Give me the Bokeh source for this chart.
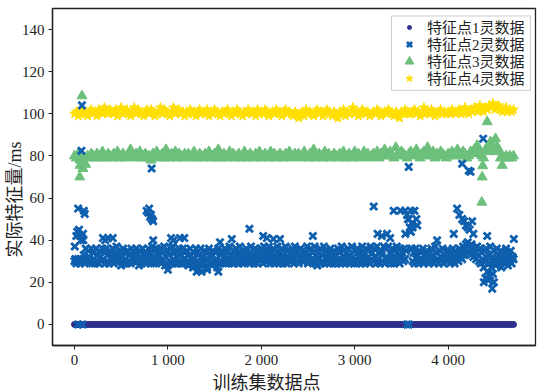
from bokeh.plotting import figure
from bokeh.models import Legend, LegendItem, Title, FixedTicker, BoxAnnotation
from bokeh.embed import file_html
from bokeh.resources import INLINE

# ---------------- data ----------------
series_names = ["特征点1灵数据", "特征点2灵数据", "特征点3灵数据", "特征点4灵数据"]

# sample indices of the training set
idx_fine = list(range(0, 4701, 10))     # series 2
idx_coarse = list(range(0, 4701, 20))   # series 1, 3, 4

# series 1: every value reads as 0
s1_vals = [0] * len(idx_coarse)

# series 2 (main band)
s2_vals = [
    30, 31, 29, 30, 31, 30, 29, 31, 30, 30, 33, 29, 36, 31, 30, 35, 32, 30, 36, 29,
    34, 31, 29, 36, 30, 33, 29, 35, 32, 30, 36, 31, 34, 29, 36, 30, 33, 29, 35, 31,
    32, 36, 29, 34, 30, 37, 31, 33, 30, 35, 28, 32, 36, 29, 34, 31, 29, 35, 30, 33,
    29, 36, 32, 30, 34, 31, 36, 30, 33, 28, 35, 32, 29, 36, 30, 34, 29, 33, 31, 36,
    30, 34, 29, 37, 32, 29, 35, 31, 36, 30, 33, 30, 36, 29, 34, 31, 37, 28, 32, 35,
    28, 33, 30, 36, 29, 37, 31, 34, 29, 35, 32, 29, 36, 30, 33, 29, 36, 31, 34, 29,
    35, 30, 28, 33, 36, 29, 31, 27, 34, 29, 36, 30, 27, 33, 29, 36, 28, 32, 30, 35,
    29, 34, 27, 31, 36, 29, 33, 28, 35, 30, 29, 34, 31, 27, 36, 29, 33, 30, 35, 29,
    32, 36, 29, 34, 30, 31, 37, 30, 33, 29, 35, 29, 32, 36, 30, 34, 29, 37, 31, 33,
    29, 35, 31, 30, 36, 32, 30, 34, 29, 37, 31, 33, 29, 36, 30, 35, 29, 32, 34, 30,
    36, 31, 29, 37, 33, 30, 35, 30, 37, 32, 29, 34, 31, 36, 29, 33, 30, 37, 32, 29,
    34, 30, 36, 29, 33, 31, 37, 29, 35, 32, 30, 34, 30, 36, 31, 29, 37, 33, 30, 35,
    29, 33, 36, 31, 30, 35, 30, 34, 32, 37, 29, 33, 30, 36, 31, 34, 30, 37, 29, 33,
    28, 34, 31, 36, 29, 33, 30, 37, 29, 35, 32, 30, 34, 29, 36, 31, 33, 29, 35, 30,
    33, 29, 36, 31, 34, 29, 37, 30, 35, 32, 29, 34, 31, 36, 29, 33, 30, 37, 32, 29,
    35, 31, 29, 36, 30, 34, 32, 29, 37, 31, 33, 29, 36, 30, 35, 32, 29, 37, 31, 34,
    30, 36, 32, 29, 37, 31, 34, 29, 35, 33, 30, 37, 29, 36, 32, 31, 37, 30, 34, 29,
    36, 32, 29, 35, 31, 37, 30, 33, 29, 36, 32, 34, 30, 36, 31, 35, 0, 50, 0, 46,
    44, 36, 30, 34, 29, 36, 31, 33, 29, 35, 31, 34, 30, 36, 29, 33, 30, 35, 32, 29,
    34, 30, 36, 31, 33, 29, 37, 30, 34, 31, 29, 35, 32, 30, 36, 29, 33, 31, 35, 30,
    31, 35, 29, 34, 30, 36, 32, 29, 35, 31, 33, 30, 36, 32, 34, 31, 37, 33, 35, 38,
    36, 39, 34, 37, 33, 38, 35, 32, 36, 34, 31, 37, 33, 30, 36, 29, 34, 31, 27, 35,
    30, 36, 25, 33, 29, 37, 27, 32, 24, 35, 30, 28, 36, 31, 33, 29, 35, 27, 32, 30,
    34, 29, 36, 31, 28, 33, 30, 35, 29, 32, 31,
]
# series 2 (isolated points away from the band)
s2_out_x = [3, 20, 30, 39, 49, 60, 70, 92, 95, 110, 100, 75, 80, 39, 86,
            305, 330, 360, 410, 772, 790, 800, 810, 820, 830, 843, 826, 843,
            1000, 1034, 1060, 1130, 1176, 1308, 1330, 1360, 1420, 1540, 1558, 1684, 1873,
            2020, 2060, 2130, 2200, 2552, 3203, 3245, 3290, 3346, 3380,
            3417, 3490, 3540, 3560, 3580, 3600, 3610, 3620, 3640, 3660, 3670, 3542, 3600, 3578,
            3882, 4060, 4096, 4120, 4150, 4170, 4190, 4210, 4230, 4257, 4270, 4150, 4221, 4240, 4375,
            4418, 4382, 4400, 4430, 4450, 4472, 4490, 4703]
s2_out_y = [37, 42, 44, 55, 45, 42, 40, 43, 40, 52.5, 54, 82.5, 104, 0, 0,
            41, 40, 41, 41, 54, 53, 55, 51, 52, 50, 49, 74, 40,
            26, 41, 40, 41, 41, 25, 26, 25, 26, 25, 39, 40.6, 45.4,
            42, 41, 40.6, 40.6, 42, 56, 43, 42, 43, 41,
            54, 54, 54, 52, 50, 54, 48, 46, 54, 50, 47, 43, 44, 74.8,
            40, 43, 55, 52, 50, 49, 47, 46, 45, 49, 43, 76.3, 73, 72.5, 88.2,
            42, 20, 22, 21, 23, 17, 20, 40.6]

# series 3 (band)
s3_vals = [
    80, 79, 81, 78, 80, 77, 76, 80, 79, 81, 80, 79, 81, 80, 79, 82, 80, 79, 81, 80,
    79, 81, 80, 82, 79, 80, 81, 79, 80, 81, 83, 80, 79, 81, 80, 82, 79, 80, 81, 79,
    80, 78, 81, 80, 82, 79, 80, 81, 79, 83, 80, 79, 81, 80, 82, 79, 81, 80, 79, 81,
    80, 81, 79, 80, 82, 80, 79, 81, 80, 79, 81, 80, 82, 79, 80, 81, 79, 83, 80, 79,
    81, 80, 79, 82, 80, 81, 79, 80, 81, 79, 80, 82, 79, 80, 81, 80, 79, 81, 80, 82,
    79, 80, 81, 80, 79, 82, 80, 81, 79, 80, 81, 80, 79, 81, 80, 82, 79, 80, 81, 80,
    81, 79, 80, 82, 80, 79, 81, 80, 83, 79, 80, 81, 80, 79, 82, 80, 81, 79, 80, 81,
    80, 79, 81, 80, 82, 79, 80, 81, 80, 79, 82, 80, 81, 79, 80, 82, 80, 81, 79, 80,
    81, 80, 82, 79, 81, 80, 83, 80, 81, 82, 80, 79, 84, 81, 80, 82, 81, 80, 79, 81,
    82, 80, 81, 83, 80, 79, 81, 82, 80, 84, 81, 80, 82, 79, 81, 80, 82, 81, 80, 79,
    81, 80, 82, 81, 80, 83, 81, 80, 82, 81, 79, 80, 82, 81, 83, 82, 84, 81, 80, 79,
    83, 82, 84, 83, 85, 82, 84, 83, 79, 80, 79, 80, 79, 80, 79, 80,
]
s3_out_x = [57, 60, 81, 90, 4310, 4330, 4360, 4364, 4370, 4418, 4453, 4480, 4507, 4530, 4579]
s3_out_y = [70, 75.5, 108.5, 74, 85, 83, 58, 70, 75.3, 96.2, 86.7, 85, 88.2, 84, 75.5]

# series 4 (band)
s4_vals = [
    100, 101, 99, 100, 102, 101, 100, 99, 101, 102, 100, 101, 99, 102, 101, 100, 103, 101, 100, 102,
    101, 100, 102, 99, 101, 103, 100, 101, 102, 100, 99, 101, 103, 100, 102, 101, 100, 99, 101, 102,
    100, 102, 101, 99, 100, 101, 103, 100, 102, 101, 100, 99, 101, 103, 100, 101, 102, 100, 101, 99,
    101, 100, 102, 100, 101, 99, 101, 102, 100, 101, 100, 102, 99, 101, 100, 102, 101, 100, 99, 101,
    100, 101, 102, 100, 99, 101, 100, 102, 101, 100, 99, 101, 100, 102, 101, 100, 101, 99, 102, 100,
    101, 100, 102, 101, 99, 100, 101, 100, 102, 101, 100, 99, 101, 102, 100, 101, 100, 99, 101, 100,
    98, 100, 101, 99, 102, 100, 101, 100, 99, 101, 102, 100, 101, 99, 100, 102, 101, 100, 99, 101,
    100, 98, 101, 100, 102, 99, 101, 100, 101, 103, 100, 101, 99, 100, 102, 101, 100, 101, 99, 100,
    101, 100, 102, 101, 99, 100, 101, 100, 102, 101, 100, 99, 101, 100, 98, 101, 100, 102, 101, 100,
    100, 101, 102, 100, 101, 99, 101, 103, 100, 101, 100, 102, 101, 99, 100, 101, 102, 100, 101, 100,
    101, 100, 102, 101, 100, 101, 102, 100, 101, 103, 101, 100, 102, 101, 103, 102, 101, 104, 102, 101,
    103, 102, 104, 103, 105, 102, 103, 104, 102, 101, 102, 103, 101, 102, 101, 102,
]

x_tick_vals = [0, 1000, 2000, 3000, 4000]
x_tick_labels = ["0", "1 000", "2 000", "3 000", "4 000"]
y_tick_vals = [0, 20, 40, 60, 80, 100, 120, 140]

x_label = "训练集数据点"
y_label = "实际特征量/ms"

# ---------------- styling / layout ----------------
C1, C2, C3, C4 = "#2e2f8c", "#0e5fae", "#6cc07b", "#ffdf00"
SERIF = "Liberation Serif, Times New Roman, DejaVu Serif, serif"
MIXED = "Liberation Serif, Noto Sans CJK SC"
INK = "#222222"
X_RANGE, Y_RANGE = (-235, 4935), (-10, 150)
W, H = 553, 392
B_LEFT, B_RIGHT, B_TOP, B_BOTTOM = 52, 18, 8, 46
FRAME_W, FRAME_H = W - B_LEFT - B_RIGHT, H - B_TOP - B_BOTTOM

p = figure(width=W, height=H, x_range=X_RANGE, y_range=Y_RANGE,
           output_backend="svg", toolbar_location=None,
           min_border_left=B_LEFT, min_border_right=B_RIGHT,
           min_border_top=B_TOP, min_border_bottom=B_BOTTOM)
p.xgrid.visible = False
p.ygrid.visible = False
p.outline_line_color = INK
p.outline_line_width = 1.3
p.outline_line_alpha = 1
p.background_fill_color = "white"
p.border_fill_color = "white"

for ax in (p.xaxis[0], p.yaxis[0]):
    ax.axis_line_color = INK
    ax.axis_line_width = 1.3
    ax.major_tick_line_color = INK
    ax.major_tick_out = 4
    ax.major_tick_in = 0
    ax.minor_tick_line_color = None
    ax.major_label_text_font = SERIF
    ax.major_label_text_font_size = "15px"
    ax.major_label_text_color = INK

p.xaxis.ticker = FixedTicker(ticks=x_tick_vals)
p.xaxis.major_label_overrides = {v: t for v, t in zip(x_tick_vals, x_tick_labels)}
p.xaxis.major_label_standoff = 2
p.yaxis.ticker = FixedTicker(ticks=y_tick_vals)
p.yaxis.major_label_standoff = 4

# draw order: 1, 3, 4, 2 (crosses lie on top)
r1 = p.scatter(idx_coarse[:len(s1_vals)], s1_vals, marker="circle", size=6,
               fill_color=C1, line_color=C1)
r3 = p.scatter(idx_coarse[:len(s3_vals)] + s3_out_x, s3_vals + s3_out_y, marker="triangle",
               size=10, fill_color=C3, line_color=C3)
r4 = p.scatter(idx_coarse[:len(s4_vals)], s4_vals, marker="star", size=10,
               fill_color=C4, line_color=C4)
r2 = p.scatter(idx_fine[:len(s2_vals)] + s2_out_x, s2_vals + s2_out_y, marker="x", size=10,
               line_color=C2, line_width=2.8)

# ---- legend: one framed box + one row legend per series (17 px row pitch) ----
LEG_LEFT, LEG_RIGHT, LEG_TOP, LEG_BOTTOM = 391, 530, 15.5, 90      # page pixels
ROW_CENTERS = [27.5, 44.5, 61.5, 78.5]                                # page pixels
GLYPH_CX, TEXT_X = 409, 427                                          # page pixels
ITEM_H = 26


def px_to_x(px):
    return X_RANGE[0] + (px - B_LEFT) * (X_RANGE[1] - X_RANGE[0]) / FRAME_W


def py_to_y(py):
    return Y_RANGE[1] - (py - B_TOP) * (Y_RANGE[1] - Y_RANGE[0]) / FRAME_H


p.add_layout(BoxAnnotation(left=px_to_x(LEG_LEFT), right=px_to_x(LEG_RIGHT),
                           top=py_to_y(LEG_TOP), bottom=py_to_y(LEG_BOTTOM),
                           fill_color="white", fill_alpha=0.8,
                           line_color="#cccccc", line_width=1, line_alpha=1))

# glyph box width per row -> legend marker size = 0.4 * width
row_glyph_w = [10, 18, 22, 18]
for name, rend, center, gw in zip(series_names, [r1, r2, r3, r4], ROW_CENTERS, row_glyph_w):
    left_px = GLYPH_CX - gw / 2
    standoff = int(round(TEXT_X - left_px - gw))
    vx = left_px - B_LEFT
    vy = (B_TOP + FRAME_H) - (center + ITEM_H / 2)
    lg = Legend(items=[LegendItem(label=name, renderers=[rend])],
                location=(vx, vy), margin=0, padding=0, spacing=0,
                glyph_width=gw, glyph_height=ITEM_H, label_height=ITEM_H,
                label_standoff=standoff,
                label_text_font=MIXED, label_text_font_size="15px", label_text_color=INK,
                border_line_color=None, background_fill_alpha=0)
    p.add_layout(lg)

tx = Title(text=x_label, align="left", offset=160, standoff=0,
           text_font=MIXED, text_font_size="18px", text_font_style="normal", text_color=INK)
ty = Title(text=y_label, align="left", offset=88,
           text_font=MIXED, text_font_size="18px", text_font_style="normal", text_color=INK)
try:
    ty.standoff = -12
except Exception:
    ty.standoff = 0
p.add_layout(tx, "below")
p.add_layout(ty, "left")

open("out.html", "w").write(file_html(p, INLINE))
